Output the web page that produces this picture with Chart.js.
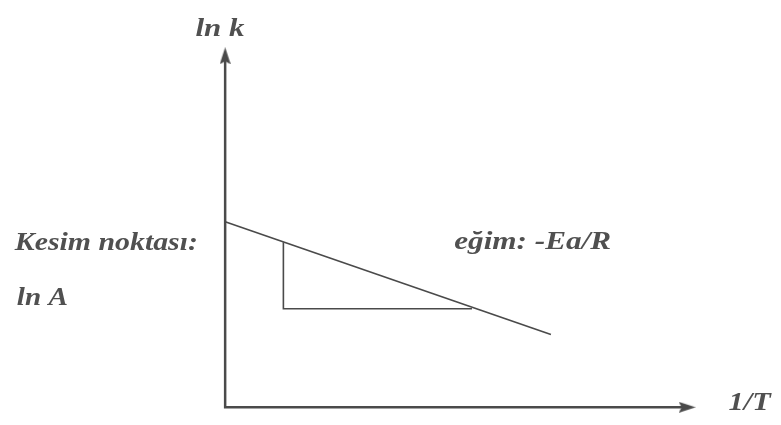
<!DOCTYPE html>
<html>
<head>
<meta charset="utf-8">
<script src="https://cdn.jsdelivr.net/npm/chart.js@4.4.1/dist/chart.umd.min.js"></script>
<style>
    html, body { margin: 0; padding: 0; background: #fff; overflow: hidden; }
    #wrap { width: 781px; height: 425px; }
</style>
</head>
<body>
<div id="wrap"><canvas id="arrhenius" width="781" height="425"></canvas></div>
<script>
// Arrhenius plot: ln k vs 1/T (arbitrary units, origin at axis corner)
const axisPath = [{ x: 0, y: 36.0 }, { x: 0, y: 0 }, { x: 46.8, y: 0 }];
const arrowTips = [{ x: 0, y: 36.0 }, { x: 46.8, y: 0 }];
const arrowTurn = [0, 90];
const fitLine = [{ x: 0, y: 19.0 }, { x: 33.0, y: 7.45 }];
const slopeTriangle = [{ x: 5.9, y: 16.9 }, { x: 5.9, y: 10.1 }, { x: 25.0, y: 10.1 }];

const labelTexts = ['ln k', 'Kesim noktası:', 'ln A', 'eğim: -Ea/R', '1/T'];
const labelX = [-3.0, -21.3, -21.1, 23.2, 51.0];
const labelY = [38.0, 16.1, 10.5, 16.2, -0.3];
const labelWidth = [49, 183, 51, 157, 42];

const ink = '#4a4a4a';
const labelFont = 'italic bold 26px "Liberation Serif", "Times New Roman", serif';

function makeArrowHead() {
    const c = document.createElement('canvas');
    c.width = 11;
    c.height = 17;
    const g = c.getContext('2d');
    g.fillStyle = ink;
    g.beginPath();
    g.moveTo(5.5, 0);
    g.lineTo(11, 17);
    g.lineTo(5.5, 14);
    g.lineTo(0, 17);
    g.closePath();
    g.fill();
    return c;
}

const labelPlugin = {
    id: 'labels',
    afterDraw(chart) {
        const ctx = chart.ctx;
        const xs = chart.scales.x;
        const ys = chart.scales.y;
        ctx.save();
        ctx.fillStyle = '#505050';
        ctx.font = labelFont;
        ctx.textBaseline = 'alphabetic';
        labelTexts.forEach((t, i) => {
            const px = xs.getPixelForValue(labelX[i]);
            const py = ys.getPixelForValue(labelY[i]);
            const w = ctx.measureText(t).width;
            ctx.save();
            ctx.translate(px, py);
            ctx.scale(labelWidth[i] / w, 1);
            ctx.fillText(t, 0, 0);
            ctx.restore();
        });
        ctx.restore();
    }
};

function drawChart() {
    new Chart(document.getElementById('arrhenius'), {
        type: 'scatter',
        data: {
            datasets: [
                {
                    data: axisPath,
                    showLine: true,
                    borderColor: ink,
                    borderWidth: 2.5,
                    pointRadius: 0
                },
                {
                    data: arrowTips,
                    pointStyle: makeArrowHead(),
                    rotation: arrowTurn
                },
                {
                    data: fitLine,
                    showLine: true,
                    borderColor: ink,
                    borderWidth: 1.6,
                    pointRadius: 0
                },
                {
                    data: slopeTriangle,
                    showLine: true,
                    borderColor: ink,
                    borderWidth: 1.6,
                    pointRadius: 0
                }
            ]
        },
        options: {
            responsive: false,
            animation: false,
            layout: { padding: 0 },
            plugins: {
                legend: { display: false },
                tooltip: { enabled: false }
            },
            scales: {
                x: { type: 'linear', min: -22.3, max: 55.8, display: false },
                y: { type: 'linear', min: -1.3, max: 41.2, display: false }
            }
        },
        plugins: [labelPlugin]
    });
}

document.fonts.load(labelFont).then(drawChart, drawChart);
</script>
</body>
</html>
